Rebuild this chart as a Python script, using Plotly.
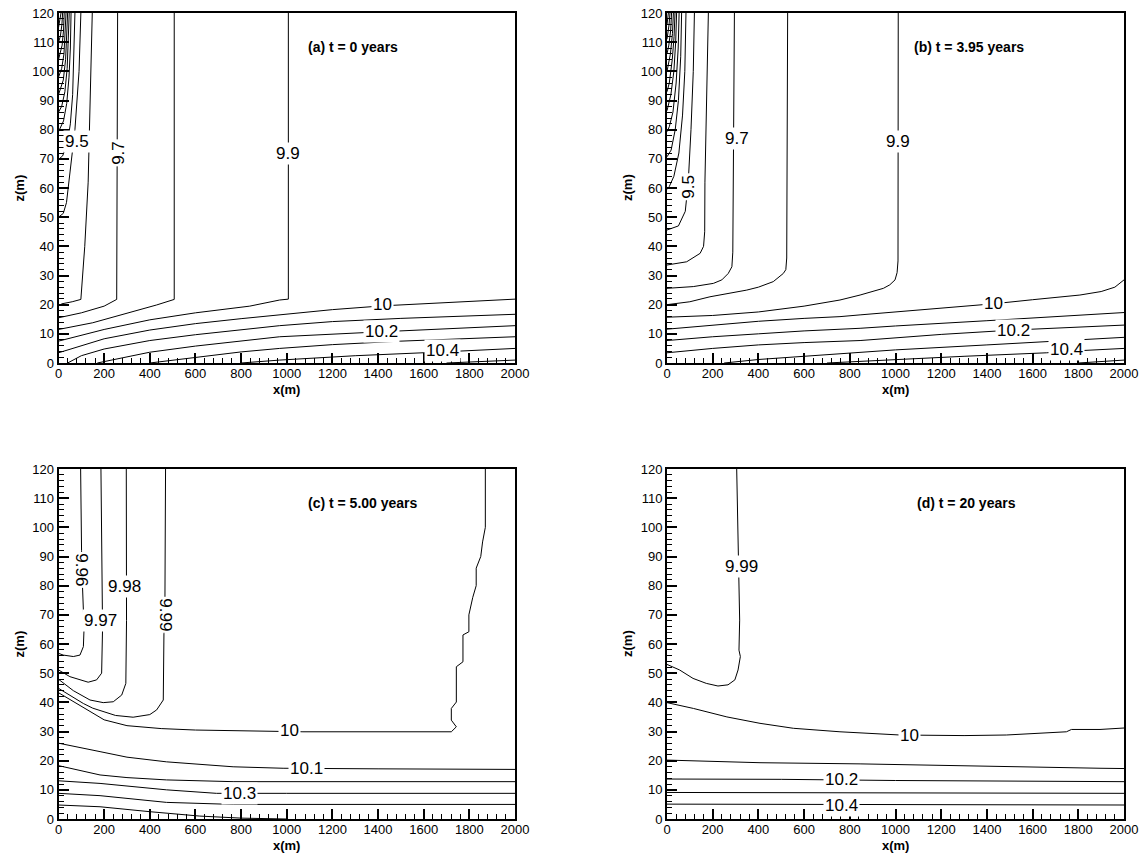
import plotly.graph_objects as go

W, H = 1141, 856

# ---------------- data ----------------
X_TICKS = [0, 200, 400, 600, 800, 1000, 1200, 1400, 1600, 1800, 2000]
Z_TICKS = [0, 10, 20, 30, 40, 50, 60, 70, 80, 90, 100, 110, 120]

PANEL_TITLES = ["(a) t = 0 years", "(b) t = 3.95 years",
                "(c) t = 5.00 years", "(d) t = 20 years"]
TITLE_X = [1083, 1070, 1083, 1087]
TITLE_Z = [108.3, 108.3, 108.3, 108.3]

# contour lines: (level, x list, z list)
A_LINES = [
    (8.7, [11, 7, 0], [120, 117.5, 115]),
    (8.8, [18, 15, 8, 0], [120, 116, 112, 110]),
    (8.9, [25, 22, 16, 0], [120, 114, 109, 104]),
    (9.0, [33, 30, 24, 14, 0], [120, 113, 106, 101, 98]),
    (9.1, [40, 37, 31, 21, 0], [120, 112, 104, 97, 92]),
    (9.2, [47, 44, 38, 28, 14, 0], [120, 110, 101, 93, 88, 86]),
    (9.3, [55, 52, 46, 36, 22, 0], [120, 108, 98, 89, 83, 79.3]),
    (9.4, [72, 68, 62, 52, 38, 18, 0], [120, 105, 92, 82, 75, 71, 69.8]),
    (9.5, [98, 90, 72, 62, 48, 43, 35, 21, 0], [120, 100, 80, 73, 65, 60, 55, 51.3, 50]),
    (9.6, [148, 142, 136, 130, 115, 98, 60, 15, 0], [120, 100, 80, 62, 40, 21.8, 21, 20.3, 19.5]),
    (9.7, [259, 257, 255, 200, 100, 0], [120, 70, 21.8, 19.5, 17.2, 15.5]),
    (9.8, [507, 507, 430, 300, 150, 0], [120, 21.8, 19.9, 17, 13.8, 11.5]),
    (9.9, [1007, 1007, 969, 838, 600, 400, 200, 100, 0], [120, 21.9, 21.6, 19.5, 17.2, 14.8, 11.5, 9.5, 7.5]),
    (10.0, [0, 100, 200, 400, 600, 800, 969, 1200, 1421, 1700, 1900, 2000],
     [3.5, 6, 8.3, 11.3, 13.5, 15.2, 16.5, 18.3, 19.6, 20.7, 21.3, 21.9]),
    (10.1, [40, 100, 200, 400, 600, 800, 969, 1200, 1500, 2000],
     [0, 2.5, 4.8, 7.7, 9.7, 11.4, 12.8, 14.2, 15.3, 16.7]),
    (10.2, [170, 250, 400, 600, 800, 969, 1414, 1700, 2000],
     [0, 1.2, 3.7, 5.8, 7.6, 9.0, 10.7, 11.8, 12.8]),
    (10.3, [400, 600, 800, 969, 1200, 1500, 2000], [0, 2, 3.8, 5.0, 6.3, 7.5, 9.0]),
    (10.4, [800, 969, 1300, 1582, 1684, 2000], [0, 1.0, 2.5, 3.3, 3.8, 5.0]),
    (10.5, [1700, 2000], [0, 1.0]),
]
A_LABELS = [("9.5", 83, 75.8, 0), ("9.7", 260, 72, -90), ("9.9", 1007, 72, 0),
            ("10", 1421, 20.2, 0), ("10.2", 1414, 10.7, 0), ("10.4", 1684, 4.2, 0)]

B_LINES = [
    (8.6, [6, 3, 0], [120, 118, 116]),
    (8.7, [13, 9, 0], [120, 116, 111]),
    (8.8, [20, 16, 8, 0], [120, 114, 109, 106]),
    (8.9, [28, 24, 15, 0], [120, 113, 106, 100]),
    (9.0, [35, 31, 23, 10, 0], [120, 112, 104, 96, 93]),
    (9.1, [42, 38, 30, 17, 0], [120, 110, 100, 92, 86.5]),
    (9.2, [53, 49, 40, 26, 10, 0], [120, 108, 96, 86, 81, 79.3]),
    (9.3, [64, 60, 50, 36, 18, 0], [120, 105, 90, 80, 73, 70.7]),
    (9.4, [83, 78, 68, 52, 30, 10, 0], [120, 100, 85, 72, 64, 60.5, 59.5]),
    (9.5, [120, 115, 105, 93, 80, 50, 0], [120, 100, 80, 62, 52, 47, 45.6]),
    (9.6, [181, 172, 166, 165, 160, 145, 86, 0], [120, 90, 62, 45, 40, 37.6, 34.7, 33.6]),
    (9.7, [295, 291, 290, 288, 284, 268, 240, 203, 115, 0],
     [120, 80, 60, 38, 33, 30.7, 28.5, 27.3, 26.2, 25.6]),
    (9.8, [528, 526, 524, 520, 509, 465, 400, 349, 250, 188, 100, 0],
     [120, 60, 36, 32, 30.7, 27.9, 26, 25, 23.5, 22.7, 21, 20]),
    (9.9, [1012, 1012, 1011, 1007, 998, 975, 947, 845, 757, 600, 400, 200, 0],
     [120, 60, 35, 31, 28.5, 26.8, 25.6, 23.3, 21.6, 19.5, 17.5, 16.3, 15.7]),
    (10.0, [0, 200, 400, 600, 757, 845, 1000, 1200, 1429, 1600, 1807, 1900, 1960, 2000],
     [11.6, 13, 14.3, 15.3, 15.9, 16.5, 17.5, 18.8, 20.3, 21.7, 23.3, 24.5, 26, 28.5]),
    (10.1, [0, 200, 400, 600, 845, 1000, 1400, 1807, 2000],
     [7.7, 9, 10, 11, 11.9, 12.7, 14.5, 16.5, 17.3]),
    (10.2, [0, 200, 400, 600, 845, 1000, 1200, 1515, 1807, 2000],
     [3.5, 5, 6.2, 7, 7.7, 8.6, 9.8, 11.3, 12.4, 13]),
    (10.3, [250, 400, 600, 845, 1000, 1400, 1807, 2000], [0, 1.2, 2.3, 3.5, 4.5, 6.2, 7.9, 8.8]),
    (10.4, [700, 1000, 1300, 1662, 1750, 2000], [0, 1.2, 2.3, 3.5, 4.0, 5]),
    (10.5, [1800, 2000], [0, 1]),
]
B_LABELS = [("9.5", 93, 60.5, -90), ("9.7", 305, 77, 0), ("9.9", 1012, 76, 0),
            ("10", 1429, 20.5, 0), ("10.2", 1515, 11.3, 0), ("10.4", 1750, 4.5, 0)]

C_LINES = [
    (9.96, [97, 99, 101, 105, 110, 112, 109, 94, 65, 21, 0],
     [120, 100, 92, 80, 70, 65.4, 59.1, 56.2, 55.7, 56.2, 56.8]),
    (9.97, [186, 190, 193, 193, 189, 167, 130, 94, 50, 0],
     [120, 90, 71.7, 65.4, 50, 47.7, 46.9, 47.7, 48.8, 51.1]),
    (9.98, [297, 300, 298, 295, 277, 240, 196, 138, 65, 0],
     [120, 83, 68, 46.5, 42.5, 40.2, 39.9, 40.8, 44, 47.9]),
    (9.99, [469, 469, 466, 462, 459, 430, 400, 327, 250, 150, 109, 0],
     [120, 100, 70, 63.6, 40.8, 37.4, 35.8, 34.9, 35.5, 38, 39.6, 44.8]),
    (10.0, [0, 50, 109, 200, 300, 450, 600, 800, 1071, 1721, 1743, 1721, 1721, 1743, 1743,
            1772, 1772, 1798, 1798, 1815, 1830, 1830, 1850, 1858, 1870, 1870],
     [43.3, 41, 38, 34, 32, 31, 30.5, 30.2, 29.9, 29.9, 31.6, 33.9, 37.9, 40.1, 52.2,
      53.9, 63.1, 64.2, 70, 76, 80, 86, 90, 95, 100, 120]),
    (10.1, [0, 100, 182, 300, 473, 765, 984, 1400, 2000], [26, 24.5, 23.1, 21.2, 19.6, 17.9, 17.4, 17.2, 17.0]),
    (10.2, [0, 182, 300, 473, 765, 1200, 2000], [18.3, 15.1, 14.2, 13.4, 12.8, 12.8, 12.8]),
    (10.3, [0, 182, 473, 692, 1000, 2000], [13.1, 12.2, 10, 8.8, 8.8, 8.8]),
    (10.4, [0, 182, 473, 765, 2000], [8.8, 8.0, 5.7, 5.0, 5.0]),
    (10.5, [0, 182, 401, 619, 800, 1000], [4.8, 4.2, 2.5, 1.0, 0.3, 0]),
]
C_LABELS = [("9.96", 101, 85.4, 90), ("9.97", 182, 68, 0), ("9.98", 291, 79.6, 0),
            ("9.99", 469, 70, 90), ("10", 1013, 30.5, 0), ("10.1", 1086, 17.4, 0),
            ("10.3", 795, 8.8, 0)]

D_LINES = [
    (9.99, [305, 310, 316, 318, 315, 321, 311, 297, 267, 223, 172, 114, 55, 0],
     [120, 100, 80, 68.2, 57.9, 55.7, 51.1, 47.7, 46, 45.6, 46.5, 48.2, 51.1, 53]),
    (10.0, [0, 116, 262, 407, 553, 757, 1020, 1300, 1485, 1748, 1770, 1895, 2000],
     [39.9, 37.9, 35, 32.8, 31.1, 29.9, 28.8, 28.6, 28.8, 29.9, 30.7, 30.7, 31.2]),
    (10.1, [0, 407, 845, 1400, 1895, 2000], [20.2, 19.3, 18.9, 18, 17.4, 17.3]),
    (10.2, [0, 500, 1000, 1895, 2000], [13.7, 13.6, 13.2, 12.8, 12.8]),
    (10.3, [0, 1000, 2000], [9.1, 8.9, 8.8]),
    (10.4, [0, 1000, 2000], [5.1, 4.9, 4.8]),
]
D_LABELS = [("9.99", 327, 86.5, 0), ("10", 1063, 28.8, 0), ("10.2", 765, 13.4, 0),
            ("10.4", 765, 4.8, 0)]

# ---------------- layout geometry ----------------
X_LEFT = [58.5 / W, 515 / W]
X_RIGHT = [667 / W, 1124 / W]
Y_TOP = [1 - 363 / H, 1 - 13 / H]
Y_BOT = [1 - 819 / H, 1 - 469 / H]

panels = [
    ("x", "y", X_LEFT, Y_TOP, A_LINES, A_LABELS),
    ("x2", "y2", X_RIGHT, Y_TOP, B_LINES, B_LABELS),
    ("x3", "y3", X_LEFT, Y_BOT, C_LINES, C_LABELS),
    ("x4", "y4", X_RIGHT, Y_BOT, D_LINES, D_LABELS),
]

FONT = "Liberation Sans, Arial, Helvetica, sans-serif"

fig = go.Figure()
annotations = []
layout = dict(
    width=W, height=H, template="none",
    margin=dict(l=0, r=0, t=0, b=0, pad=0),
    paper_bgcolor="white", plot_bgcolor="white",
    showlegend=False, font=dict(family=FONT, color="black"),
)

for i, (xa, ya, xdom, ydom, lines, labels) in enumerate(panels):
    for level, xs, zs in lines:
        fig.add_trace(go.Scatter(x=xs, y=zs, mode="lines", xaxis=xa, yaxis=ya,
                                 line=dict(color="black", width=1),
                                 hoverinfo="skip", name=str(level)))
    for text, lx, lz, ang in labels:
        annotations.append(dict(text=text, x=lx, y=lz, xref=xa, yref=ya,
                                showarrow=False, textangle=ang,
                                font=dict(size=17, family=FONT, color="black"),
                                bgcolor="white", borderpad=1,
                                xanchor="center", yanchor="middle"))
    annotations.append(dict(text="<b>" + PANEL_TITLES[i] + "</b>", x=TITLE_X[i], y=TITLE_Z[i],
                            xref=xa, yref=ya, showarrow=False, xanchor="left",
                            yanchor="middle", font=dict(size=14, family=FONT, color="black")))
    annotations.append(dict(text="<b>x(m)</b>", x=0.5, y=0, xref=xa + " domain",
                            yref=ya + " domain", yshift=-26, showarrow=False,
                            xanchor="center", yanchor="middle",
                            font=dict(size=13, family=FONT, color="black")))
    annotations.append(dict(text="<b>z(m)</b>", x=0, y=0.5, xref=xa + " domain",
                            yref=ya + " domain", xshift=-40, showarrow=False,
                            textangle=-90, xanchor="center", yanchor="middle",
                            font=dict(size=13, family=FONT, color="black")))
    k = "" if i == 0 else str(i + 1)
    common = dict(showgrid=False, zeroline=False, showline=True, linecolor="black",
                  linewidth=2, mirror=True, ticks="inside", ticklen=10, tickwidth=1.5,
                  tickcolor="black", tickfont=dict(size=13, family=FONT, color="black"),
                  automargin=False, fixedrange=True)
    layout["xaxis" + k] = dict(common, domain=xdom, range=[0, 2000], anchor=ya,
                               tickvals=X_TICKS, ticktext=[str(v) for v in X_TICKS],
                               ticklabelstandoff=-3,
                               minor=dict(ticks="inside", ticklen=5, tickwidth=1,
                                          tickcolor="black", dtick=40, tick0=0, showgrid=False))
    layout["yaxis" + k] = dict(common, domain=ydom, range=[0, 120], anchor=xa,
                               tickvals=Z_TICKS, ticktext=[str(v) for v in Z_TICKS],
                               minor=dict(ticks="inside", ticklen=5, tickwidth=1,
                                          tickcolor="black", dtick=2, tick0=0, showgrid=False))

layout["annotations"] = annotations
fig.update_layout(**layout)
fig.write_html("out.html")
